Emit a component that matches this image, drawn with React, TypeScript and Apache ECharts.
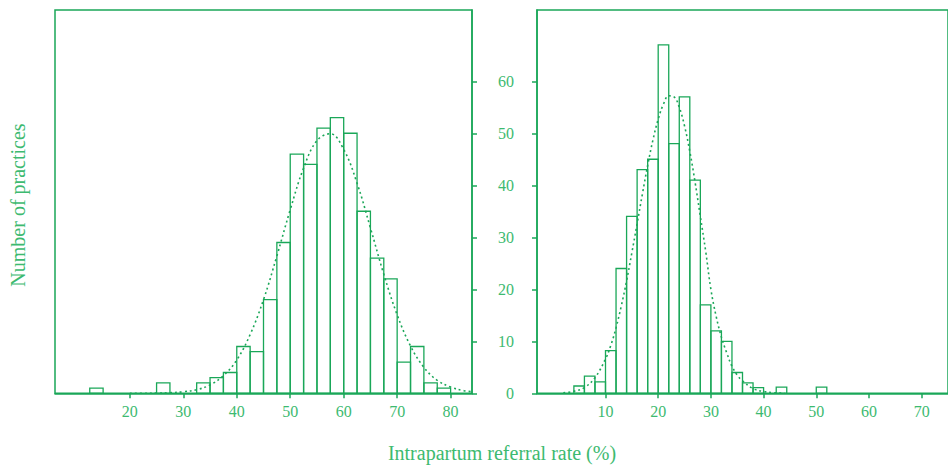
import React, { useEffect, useRef } from "react";
import * as echarts from "echarts";

// ---------- data ----------
const leftBinWidth = 2.5;
const leftBinStart = [12.5, 25, 32.5, 35, 37.5, 40, 42.5, 45, 47.5, 50, 52.5, 55, 57.5, 60, 62.5, 65, 67.5, 70, 72.5, 75, 77.5];
const leftCounts = [1, 2, 2, 3, 4, 9, 8, 18, 29, 46, 44, 51, 53, 50, 35, 26, 22, 6, 9, 2, 1];

const rightBinWidth = 2;
const rightBinStart = [4, 6, 8, 10, 12, 14, 16, 18, 20, 22, 24, 26, 28, 30, 32, 34, 36, 38, 42.4, 50];
const rightCounts = [1.4, 3.3, 2.2, 8.2, 24, 34, 43, 45, 67, 48, 57, 41, 17, 12, 10, 4, 2, 1.1, 1.2, 1.2];

const leftCurveX = [20, 22.5, 25, 27.5, 30, 32.5, 35, 37.5, 40, 42.5, 45, 47.5, 50, 52.5, 55, 57.5, 60, 62.5, 65, 67.5, 70, 72.5, 75, 77.5, 80, 82.5, 84];
const leftCurveY = [0.0, 0.01, 0.04, 0.1, 0.3, 0.7, 1.6, 3.4, 6.4, 11.3, 18, 26.4, 35.3, 43.3, 48.6, 49.9, 46.9, 40.4, 31.8, 22.9, 15.1, 9.1, 5.0, 2.5, 1.2, 0.5, 0.3];

const rightCurveX = [2, 4, 6, 8, 10, 11, 12, 13, 14, 15, 16, 17, 18, 19, 20, 21, 22, 23, 24, 25, 26, 27, 28, 29, 30, 31, 32, 33, 34, 35, 36, 38, 40, 42, 44];
const rightCurveY = [0.1, 0.4, 1.1, 3.0, 6.6, 9.2, 12.6, 16.8, 21.6, 27.0, 32.6, 38.3, 43.8, 48.7, 52.7, 55.6, 57.2, 57.0, 55.0, 51.4, 46.5, 40.6, 34.0, 27.4, 20.0, 14.8, 10.8, 7.8, 5.2, 3.5, 2.4, 0.9, 0.35, 0.12, 0.04];

const leftXTicks = [20, 30, 40, 50, 60, 70, 80];
const rightXTicks = [10, 20, 30, 40, 50, 60, 70];
const yTicks = [0, 10, 20, 30, 40, 50, 60];

const xTitle = "Intrapartum referral rate (%)";
const yTitle = "Number of practices";

// ---------- style ----------
const LINE = "#1aa758";
const TEXT = "#3dba70";
const FONT = "'Liberation Serif', 'DejaVu Serif', serif";

function histRender(params: any, api: any) {
  const x0 = api.value(0);
  const x1 = api.value(1);
  const h = api.value(2);
  const p0 = api.coord([x0, h]);
  const p1 = api.coord([x1, 0]);
  return {
    type: "rect",
    shape: { x: p0[0], y: p0[1], width: p1[0] - p0[0], height: p1[1] - p0[1] },
    style: { fill: "none", stroke: LINE, lineWidth: 1.3 },
  };
}

export default function App() {
  const ref = useRef<HTMLDivElement>(null);

  useEffect(() => {
    if (!ref.current) return;
    const chart = echarts.init(ref.current, null, { renderer: "svg" });

    const leftData = leftBinStart.map((s, i) => [s, s + leftBinWidth, leftCounts[i]]);
    const rightData = rightBinStart.map((s, i) => [s, s + rightBinWidth, rightCounts[i]]);
    const leftCurve = leftCurveX.map((x, i) => [x, leftCurveY[i]]);
    const rightCurve = rightCurveX.map((x, i) => [x, rightCurveY[i]]);

    const axisLine = { show: true, onZero: false, lineStyle: { color: LINE, width: 1.5 } };
    const label = { color: TEXT, fontFamily: FONT, fontSize: 16 };
    const tick = (vals: number[]) => ({
      show: true, inside: false, length: 5, lineStyle: { color: LINE, width: 1.5 }, customValues: vals,
    });

    chart.setOption({
      animation: false,
      grid: [
        { left: 55, top: 10, width: 417, height: 383.3, show: true, borderColor: LINE, borderWidth: 1.5, containLabel: false },
        { left: 537, top: 10, width: 420, height: 383.3, show: true, borderColor: LINE, borderWidth: 1.5, containLabel: false },
      ],
      xAxis: [
        {
          gridIndex: 0, type: "value", min: 6, max: 84,
          axisLine, axisTick: tick(leftXTicks),
          axisLabel: { ...label, margin: 10, customValues: leftXTicks },
          splitLine: { show: false },
        },
        {
          gridIndex: 1, type: "value", min: -3, max: 75,
          axisLine, axisTick: tick(rightXTicks),
          axisLabel: { ...label, margin: 10, customValues: rightXTicks },
          splitLine: { show: false },
        },
      ],
      yAxis: [
        {
          gridIndex: 0, type: "value", min: 0, max: 73.7, position: "right",
          axisLine, axisTick: tick(yTicks),
          axisLabel: { show: false },
          splitLine: { show: false },
        },
        {
          gridIndex: 1, type: "value", min: 0, max: 73.7, position: "left",
          axisLine, axisTick: tick(yTicks),
          axisLabel: { ...label, margin: 23, customValues: yTicks },
          splitLine: { show: false },
        },
      ],
      series: [
        { type: "custom", xAxisIndex: 0, yAxisIndex: 0, renderItem: histRender, data: leftData, encode: { x: [0, 1], y: 2 }, silent: true },
        { type: "custom", xAxisIndex: 1, yAxisIndex: 1, renderItem: histRender, data: rightData, encode: { x: [0, 1], y: 2 }, silent: true },
        {
          type: "line", xAxisIndex: 0, yAxisIndex: 0, data: leftCurve, smooth: 0.4, symbol: "none",
          lineStyle: { color: LINE, width: 1.6, type: [2, 3] }, silent: true,
        },
        {
          type: "line", xAxisIndex: 1, yAxisIndex: 1, data: rightCurve, smooth: 0.4, symbol: "none",
          lineStyle: { color: LINE, width: 1.6, type: [2, 3] }, silent: true,
        },
      ],
      graphic: [
        {
          type: "text", x: 502, y: 453,
          style: { text: xTitle, fill: TEXT, font: `20px ${FONT}`, align: "center", verticalAlign: "middle" },
        },
        {
          type: "text", x: 18, y: 205, rotation: Math.PI / 2,
          style: { text: yTitle, fill: TEXT, font: `20px ${FONT}`, align: "center", verticalAlign: "middle" },
        },
      ],
    });

    return () => chart.dispose();
  }, []);

  return (
    <div
      ref={ref}
      style={{ position: "fixed", left: 0, top: 0, width: 948, height: 466, background: "#fff" }}
    />
  );
}
